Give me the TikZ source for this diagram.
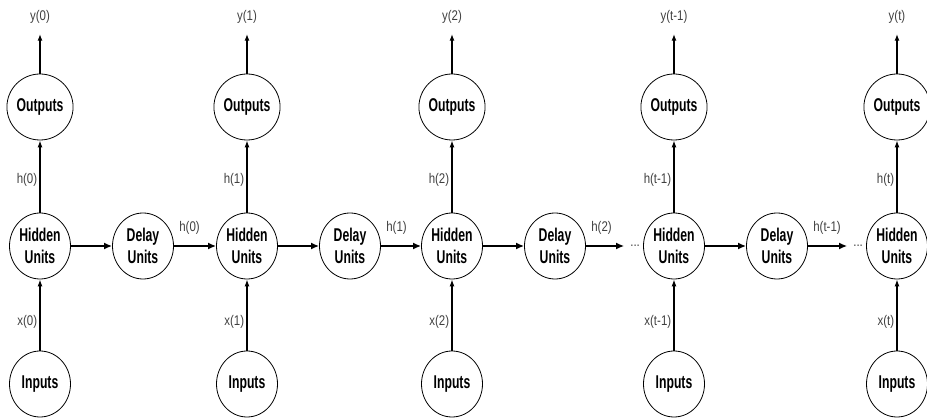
\documentclass[tikz,border=0pt]{standalone}
\usepackage{fontspec}
\setmainfont{Liberation Sans}[FakeStretch=0.82]
\newfontfamily\unitfont{Liberation Sans}[FakeStretch=0.66]
\usetikzlibrary{arrows.meta,shapes.geometric}

\begin{document}
\begin{tikzpicture}[x=1pt, y=-1pt,
    unit/.style={draw, ellipse, line width=0.8pt, minimum width=61pt, minimum height=66pt,
        inner sep=0pt, align=center, font=\unitfont\bfseries\fontsize{18.5}{22.5}\selectfont},
    tag/.style={font=\fontsize{14}{14}\selectfont, text=black!75, inner sep=2pt},
    up/.style={-{Latex[length=7pt,width=5pt]}, line width=1.6pt},
    carry/.style={-{Latex[length=8pt,width=7pt]}, line width=2.8pt}]
        \useasboundingbox (0,0) rectangle (927,419);
        % units of each time step
        \node[unit] (in0) at (40,384) {Inputs};
        \node[unit] (hid0) at (40,246) {Hidden\\Units};
        \node[unit] (out0) at (40,107) {Outputs};
        \node[tag] (y0) at (40,17) {y(0)};
        \node[unit] (del0) at (143,246) {Delay\\Units};
        \node[unit] (in1) at (247,384) {Inputs};
        \node[unit] (hid1) at (247,246) {Hidden\\Units};
        \node[unit] (out1) at (247,107) {Outputs};
        \node[tag] (y1) at (247,17) {y(1)};
        \node[unit] (del1) at (350,246) {Delay\\Units};
        \node[unit] (in2) at (452,384) {Inputs};
        \node[unit] (hid2) at (452,246) {Hidden\\Units};
        \node[unit] (out2) at (452,107) {Outputs};
        \node[tag] (y2) at (452,17) {y(2)};
        \node[unit] (del2) at (555,246) {Delay\\Units};
        \node[unit] (in3) at (674,384) {Inputs};
        \node[unit] (hid3) at (674,246) {Hidden\\Units};
        \node[unit] (out3) at (674,107) {Outputs};
        \node[tag] (y3) at (674,17) {y(t-1)};
        \node[tag, anchor=east, inner sep=3pt] (gap3) at (hid3.west) {...};
        \node[unit] (del3) at (777,246) {Delay\\Units};
        \node[unit] (in4) at (897,384) {Inputs};
        \node[unit] (hid4) at (897,246) {Hidden\\Units};
        \node[unit] (out4) at (897,107) {Outputs};
        \node[tag] (y4) at (897,17) {y(t)};
        \node[tag, anchor=east, inner sep=3pt] (gap4) at (hid4.west) {...};
        % inputs up to the outputs
        \draw[up] (in0) -- node[tag, left, pos=0.4] {x(0)} (hid0);
        \draw[up] (hid0) -- node[tag, left, pos=0.45] {h(0)} (out0);
        \draw[up, shorten >=8pt] (out0) -- (y0);
        \draw[up] (in1) -- node[tag, left, pos=0.4] {x(1)} (hid1);
        \draw[up] (hid1) -- node[tag, left, pos=0.45] {h(1)} (out1);
        \draw[up, shorten >=8pt] (out1) -- (y1);
        \draw[up] (in2) -- node[tag, left, pos=0.4] {x(2)} (hid2);
        \draw[up] (hid2) -- node[tag, left, pos=0.45] {h(2)} (out2);
        \draw[up, shorten >=8pt] (out2) -- (y2);
        \draw[up] (in3) -- node[tag, left, pos=0.4] {x(t-1)} (hid3);
        \draw[up] (hid3) -- node[tag, left, pos=0.45] {h(t-1)} (out3);
        \draw[up, shorten >=8pt] (out3) -- (y3);
        \draw[up] (in4) -- node[tag, left, pos=0.4] {x(t)} (hid4);
        \draw[up] (hid4) -- node[tag, left, pos=0.45] {h(t)} (out4);
        \draw[up, shorten >=8pt] (out4) -- (y4);
        % hidden state through the delays
        \draw[carry] (hid0) -- (del0);
        \draw[carry] (del0) -- node[tag, anchor=south west, pos=0, xshift=2pt, yshift=8pt] {h(0)} (hid1);
        \draw[carry] (hid1) -- (del1);
        \draw[carry] (del1) -- node[tag, anchor=south west, pos=0, xshift=2pt, yshift=8pt] {h(1)} (hid2);
        \draw[carry] (hid2) -- (del2);
        \draw[carry, shorten >=3pt] (del2) -- node[tag, anchor=south west, pos=0, xshift=2pt, yshift=8pt] {h(2)} (gap3);
        \draw[carry] (hid3) -- (del3);
        \draw[carry, shorten >=3pt] (del3) -- node[tag, anchor=south west, pos=0, xshift=2pt, yshift=8pt] {h(t-1)} (gap4);
    \end{tikzpicture}
\end{document}
